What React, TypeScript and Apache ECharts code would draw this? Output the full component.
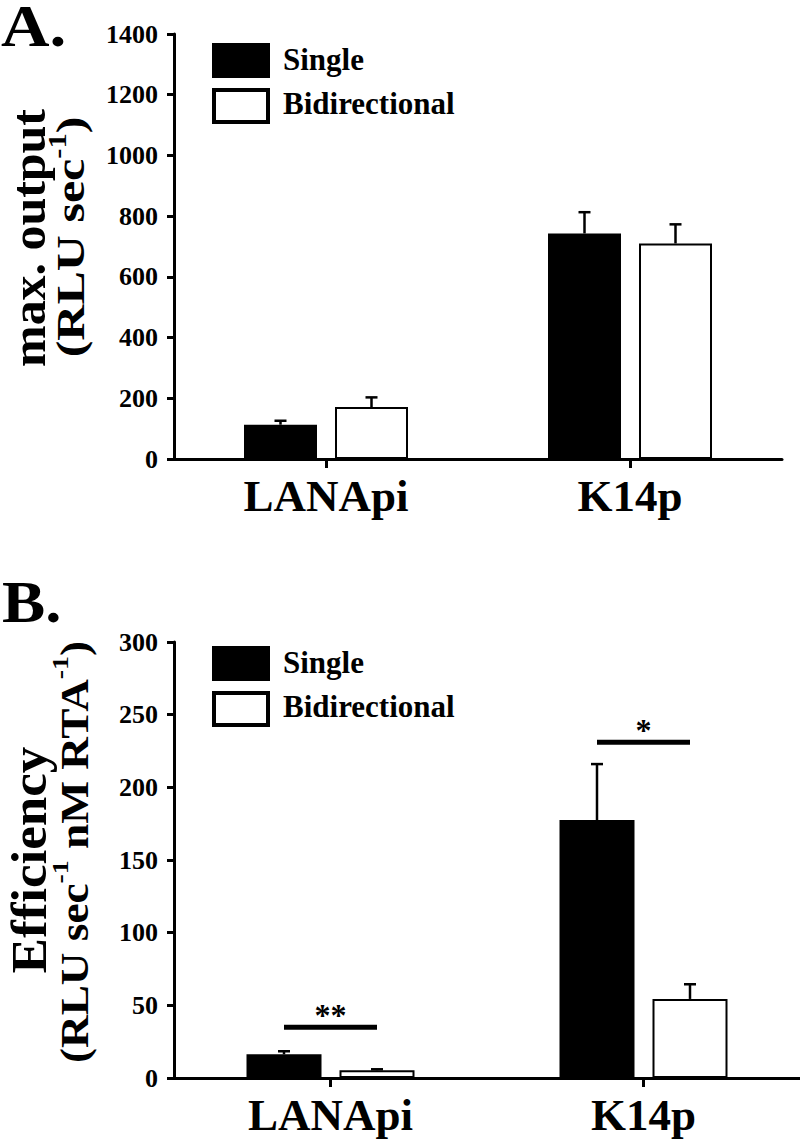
import React, { useEffect, useRef } from "react";
import * as echarts from "echarts";

const categories = ["LANApi", "K14p"];
const seriesNames = ["Single", "Bidirectional"];

// Panel A: max. output (RLU sec-1)
const outputSingle = [113, 743];
const outputSingleErr = [13, 70];
const outputBidir = [171, 710];
const outputBidirErr = [32, 63];
const outputTicks = { min: 0, max: 1400, interval: 200 };

// Panel B: Efficiency (RLU sec-1 nM RTA-1)
const effSingle = [16.3, 177.5];
const effSingleErr = [2.1, 38.5];
const effBidir = [5.3, 54.4];
const effBidirErr = [0.7, 10.1];
const effTicks = { min: 0, max: 300, interval: 50 };

// significance markers (panel B)
const sigCategory = [0, 1];
const sigLevel = [35, 231];
const sigLabel = ["**", "*"];

const FONT = '"Liberation Serif", "Times New Roman", serif';

const BAR_W = [73, 75];
const BAR_GAP = [18, 18];

function errorSeries(gi: number, vals: number[], errs: number[], side: number) {
  const w = BAR_W[gi];
  const g = BAR_GAP[gi];
  const offset = (side * (w + g)) / 2;
  return {
    type: "custom",
    xAxisIndex: gi,
    yAxisIndex: gi,
    silent: true,
    z: 3,
    data: vals.map((v, i) => [i, v, errs[i]]),
    renderItem: (params: any, api: any) => {
      const c = api.value(0);
      const v = api.value(1);
      const e = api.value(2);
      const b = api.coord([c, v]);
      const t = api.coord([c, v + e]);
      const x = b[0] + offset;
      return {
        type: "group",
        children: [
          { type: "line", shape: { x1: x, y1: b[1], x2: x, y2: t[1] }, style: { stroke: "#000", lineWidth: 2.5 } },
          { type: "line", shape: { x1: x - 6, y1: t[1], x2: x + 6, y2: t[1] }, style: { stroke: "#000", lineWidth: 2.5 } },
        ],
      };
    },
  };
}

function barSeries(gi: number, name: string, vals: number[], filled: boolean) {
  return {
    type: "bar",
    name,
    xAxisIndex: gi,
    yAxisIndex: gi,
    data: vals,
    barWidth: BAR_W[gi],
    barGap: `${(BAR_GAP[gi] / BAR_W[gi]) * 100}%`,
    itemStyle: filled
      ? { color: "#000", borderColor: "#000", borderWidth: 0 }
      : { color: "#fff", borderColor: "#000", borderWidth: 2 },
    z: 2,
  };
}

function legendGraphic(top: number) {
  return [
    { type: "rect", left: 212, top, shape: { width: 58, height: 35 }, style: { fill: "#000" } },
    {
      type: "rect",
      left: 212,
      top: top + 45,
      shape: { width: 54, height: 32 },
      style: { fill: "#fff", stroke: "#000", lineWidth: 4 },
    },
    {
      type: "text",
      left: 283,
      top: top + 1,
      style: { text: seriesNames[0], font: `bold 31px ${FONT}`, fill: "#000" },
    },
    {
      type: "text",
      left: 283,
      top: top + 45,
      style: { text: seriesNames[1], font: `bold 31px ${FONT}`, fill: "#000" },
    },
  ];
}

function axisCommon() {
  return {
    axisLine: { show: true, lineStyle: { color: "#000", width: 3 } },
    axisTick: { show: true, length: 7, lineStyle: { color: "#000", width: 3 } },
    splitLine: { show: false },
  };
}

export default function App() {
  const ref = useRef<HTMLDivElement>(null);
  useEffect(() => {
    if (!ref.current) return;
    const chart = echarts.init(ref.current, undefined, { renderer: "svg" });
    const xAxisBase = (gi: number) => ({
      type: "category",
      gridIndex: gi,
      data: categories,
      ...axisCommon(),
      axisTick: { show: true, alignWithLabel: true, length: 9, lineStyle: { color: "#000", width: 3 } },
      axisLabel: { fontSize: 45, fontWeight: "bold", fontFamily: FONT, color: "#000", margin: 14 },
    });
    const yAxisBase = (gi: number, t: { min: number; max: number; interval: number }) => ({
      type: "value",
      gridIndex: gi,
      min: t.min,
      max: t.max,
      interval: t.interval,
      ...axisCommon(),
      axisLabel: {
        fontSize: 26,
        fontWeight: "bold",
        fontFamily: FONT,
        color: "#000",
        margin: 16,
        formatter: (v: number) => String(v),
      },
    });

    const sigSeries = {
      type: "custom",
      xAxisIndex: 1,
      yAxisIndex: 1,
      silent: true,
      z: 4,
      data: sigCategory.map((c, i) => [c, sigLevel[i], i]),
      renderItem: (params: any, api: any) => {
        const p = api.coord([api.value(0), api.value(1)]);
        const idx = api.value(2);
        const half = 46.5;
        return {
          type: "group",
          children: [
            { type: "rect", shape: { x: p[0] - half, y: p[1] - 2.5, width: half * 2, height: 5 }, style: { fill: "#000" } },
            {
              type: "text",
              style: {
                text: sigLabel[idx],
                x: p[0],
                y: p[1] + 4,
                align: "center",
                verticalAlign: "bottom",
                font: `bold 32px ${FONT}`,
                fill: "#000",
              },
            },
          ],
        };
      },
    };

    const option: any = {
      animation: false,
      backgroundColor: "#fff",
      grid: [
        { left: 174, top: 34, width: 608, height: 425, containLabel: false },
        { left: 174, top: 642, width: 626, height: 436, containLabel: false },
      ],
      xAxis: [xAxisBase(0), xAxisBase(1)],
      yAxis: [yAxisBase(0, outputTicks), yAxisBase(1, effTicks)],
      series: [
        barSeries(0, seriesNames[0], outputSingle, true),
        barSeries(0, seriesNames[1], outputBidir, false),
        errorSeries(0, outputSingle, outputSingleErr, -1),
        errorSeries(0, outputBidir, outputBidirErr, 1),
        barSeries(1, seriesNames[0], effSingle, true),
        barSeries(1, seriesNames[1], effBidir, false),
        errorSeries(1, effSingle, effSingleErr, -1),
        errorSeries(1, effBidir, effBidirErr, 1),
        sigSeries,
      ],
      graphic: [
        { type: "text", x: 1, y: -4, scaleX: 1.12, style: { text: "A.", font: `bold 60px ${FONT}`, fill: "#000" } },
        { type: "text", x: 2, y: 572, scaleX: 1.08, style: { text: "B.", font: `bold 60px ${FONT}`, fill: "#000" } },
        ...legendGraphic(43),
        ...legendGraphic(646),
        {
          type: "text",
          x: 29,
          y: 238,
          rotation: Math.PI / 2,
          scaleX: 1.04,
          style: { text: "max. output", font: `bold 48px ${FONT}`, fill: "#000", align: "center", verticalAlign: "middle" },
        },
        {
          type: "text",
          x: 68,
          y: 237,
          rotation: Math.PI / 2,
          scaleX: 1.22,
          style: {
            text: "{m|(RLU sec}{s|-1}{m|)}",
            align: "center",
            verticalAlign: "middle",
            rich: {
              m: { font: `bold 41px ${FONT}`, fill: "#000", lineHeight: 46, verticalAlign: "bottom" },
              s: { font: `bold 25px ${FONT}`, fill: "#000", lineHeight: 46, verticalAlign: "top" },
            },
          },
        },
        {
          type: "text",
          x: 29,
          y: 860,
          rotation: Math.PI / 2,
          scaleX: 1.04,
          style: { text: "Efficiency", font: `bold 51px ${FONT}`, fill: "#000", align: "center", verticalAlign: "middle" },
        },
        {
          type: "text",
          x: 71,
          y: 852,
          rotation: Math.PI / 2,
          scaleX: 1.16,
          style: {
            text: "{m|(RLU sec}{s|-1}{m| nM RTA}{s|-1}{m|)}",
            align: "center",
            verticalAlign: "middle",
            rich: {
              m: { font: `bold 39px ${FONT}`, fill: "#000", lineHeight: 46, verticalAlign: "bottom" },
              s: { font: `bold 24px ${FONT}`, fill: "#000", lineHeight: 46, verticalAlign: "top" },
            },
          },
        },
      ],
    };
    chart.setOption(option);
    return () => chart.dispose();
  }, []);
  return (
    <div
      ref={ref}
      style={{ position: "absolute", left: 0, top: 0, width: 800, height: 1145, background: "#fff" }}
    />
  );
}
